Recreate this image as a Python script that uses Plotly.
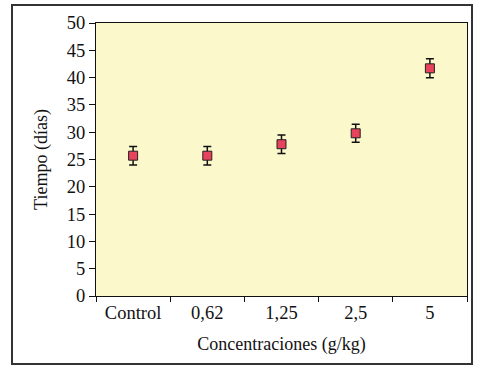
import plotly.graph_objects as go

categories = ["Control", "0,62", "1,25", "2,5", "5"]
tiempo = [25.7, 25.7, 27.8, 29.8, 41.7]
error = [1.7, 1.7, 1.7, 1.65, 1.75]
y_ticks = [0, 5, 10, 15, 20, 25, 30, 35, 40, 45, 50]

font = "Liberation Serif"
fig = go.Figure()
fig.add_trace(go.Scatter(
    x=categories, y=tiempo, mode="markers",
    marker=dict(symbol="square", size=9, color="#E8435C",
                line=dict(color="#222222", width=1)),
    error_y=dict(type="data", array=error, visible=True, color="#111111",
                 thickness=1.5, width=4),
    showlegend=False,
))

W, H = 484, 366
l, r, t, b = 96, 17, 23, 70
pw, ph = W - l - r, H - t - b
def px(x): return (x - l) / pw
def py(y): return (H - b - y) / ph

fig.update_layout(
    width=W, height=H,
    margin=dict(l=l, r=r, t=t, b=b),
    paper_bgcolor="white",
    plot_bgcolor="#FBF8CB",
    font=dict(family=font, size=18, color="#111111"),
    xaxis=dict(
        type="category", tickson="boundaries", ticks="outside", ticklen=5,
        tickwidth=1.3, tickcolor="#111", showline=True, linecolor="#111",
        linewidth=1.3, mirror=True, showgrid=False,
        title=dict(text="Concentraciones (g/kg)", font=dict(size=18), standoff=15),
        range=[-0.5, 4.5], tickfont=dict(size=18.5),
    ),
    yaxis=dict(
        range=[0, 50], tickvals=y_ticks, ticks="outside", ticklen=6,
        tickwidth=1.3, tickcolor="#111", showline=True, linecolor="#111",
        linewidth=1.3, mirror=True, showgrid=False, zeroline=False,
        title=dict(text="Tiempo (días)", font=dict(size=18), standoff=14),
        tickfont=dict(size=18.5),
    ),
    shapes=[dict(type="rect", xref="paper", yref="paper", layer="above",
                 x0=px(12), x1=px(472), y0=py(364), y1=py(5),
                 line=dict(color="#333333", width=2))],
)
fig.write_html("out.html", config={"displayModeBar": False},
               post_script="document.body.style.margin='0';")
